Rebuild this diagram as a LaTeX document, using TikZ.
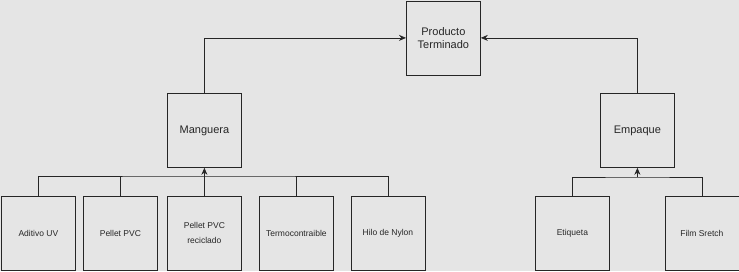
\documentclass[tikz,border=0pt]{standalone}
\usepackage{fontspec}
\setmainfont{Liberation Sans}
\usetikzlibrary{arrows.meta}
\begin{document}
\begin{tikzpicture}[x=1pt,y=-1pt,
  box/.style={draw=black!85,line width=0.8pt,minimum width=74pt,minimum height=74pt,inner sep=1pt,align=center,anchor=north west,text=black!85},
  big/.style={box,font=\fontsize{11}{13.5}\selectfont},
  small/.style={box,font=\fontsize{8.5}{15}\selectfont},
  conn/.style={draw=black!85,line width=0.8pt},
  arr/.style={conn,-{Stealth[length=7pt,width=6pt]}}]
\fill[black!10] (0,0) rectangle (739,271);
\useasboundingbox (0,0) rectangle (739,271);
\node[big] (pt) at (406,0.5) {Producto\\Terminado};
\node[big] (man) at (167,93) {Manguera};
\node[big] (emp) at (600,93) {Empaque};
\node[small] (adi) at (1,196) {Aditivo UV};
\node[small] (pel) at (83,196) {Pellet PVC};
\node[small] (rec) at (167,196) {Pellet PVC\\reciclado};
\node[small] (ter) at (259,196) {Termocontraible};
\node[small] (hil) at (350.5,196) {Hilo de Nylon};
\node[small] (eti) at (535,196) {Etiqueta};
\node[small] (fil) at (664.5,196) {Film Sretch};
\coordinate (mb) at (man.south |- 0,176);
\coordinate (eb) at (emp.south |- 0,177);
\draw[arr] (man.north) |- (pt.west);
\draw[arr] (emp.north) |- (pt.east);
\draw[conn] (adi.north) |- (mb) -| (hil.north);
\draw[conn] (pel.north) -- (pel.north |- mb);
\draw[conn] (ter.north) -- (ter.north |- mb);
\draw[arr] (rec.north) -- (man.south);
\draw[conn] (eti.north) |- (eb) -| (fil.north);
\draw[arr] (eb) -- (emp.south);
\end{tikzpicture}
\end{document}
